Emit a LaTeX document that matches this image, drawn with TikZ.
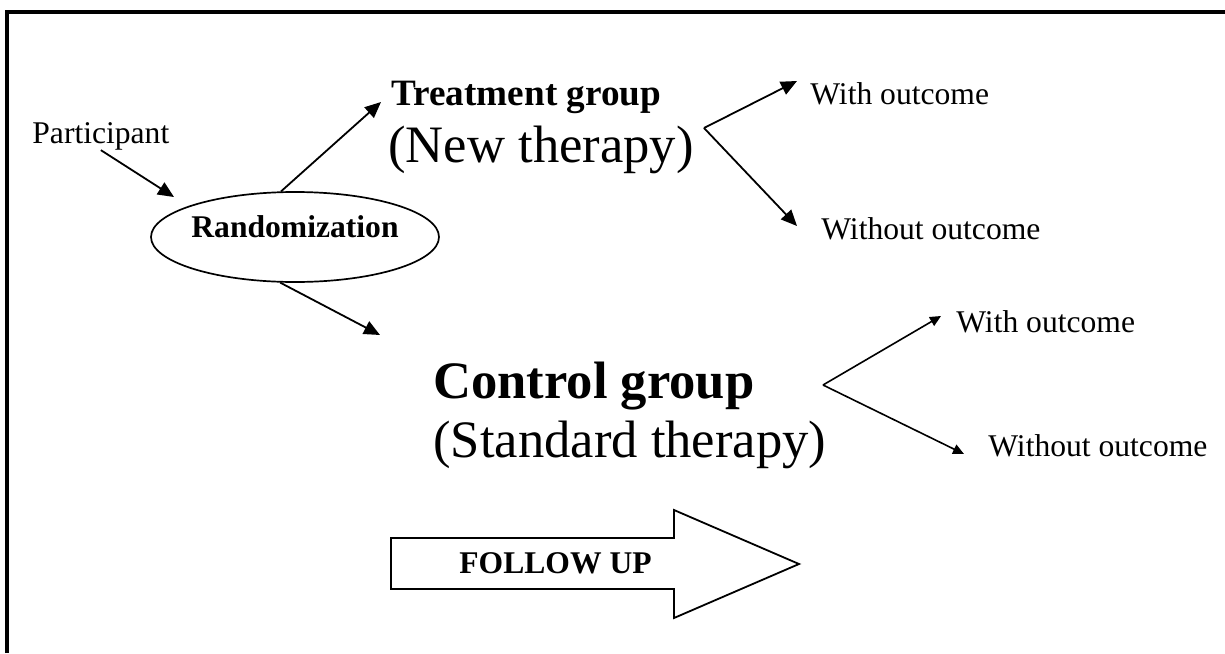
\documentclass[tikz,border=0pt]{standalone}
\usepackage{fontspec}
\setmainfont{Liberation Serif}
\usetikzlibrary{positioning,arrows.meta,shapes.geometric}

\begin{document}
\begin{tikzpicture}[x=0.5pt,y=-0.5pt, txt/.style={anchor=base west,inner sep=0pt,font=\fontsize{15.8}{19}\selectfont},
    grp/.style={anchor=base west,inner sep=0pt,font=\fontsize{26.3}{31}\selectfont},
    randbox/.style={ellipse,draw,line width=0.85pt,minimum width=144pt,minimum height=45pt,inner xsep=-1pt,inner ysep=0pt,text depth=10pt,font=\bfseries\fontsize{15.8}{19}\selectfont},
    arr/.style={-{Triangle[length=8pt,width=7pt]},line width=0.9pt},
    sarr/.style={-{Triangle[length=5.5pt,width=5pt]},line width=0.8pt}]
            \useasboundingbox (0,0) rectangle (1225,653);
            \draw[line width=2pt] (7,653) -- (7,12) -- (1225,12);

            \node[txt] (part) at (32,143) {Participant};
            \node[randbox] (rnd) at (295,237) {Randomization};

            \node[txt,font=\bfseries\fontsize{18.6}{22}\selectfont] (treat) at (391,105) {Treatment group};
            \node[grp] (newth) at (388,162) {(New therapy)};
            \node[grp,font=\bfseries\fontsize{26.3}{31}\selectfont] (ctrl) at (433,398) {Control group};
            \node[grp] (stdth) at (433,457) {(Standard therapy)};

            \node[txt] (with1) at (810,104) {With outcome};
            \node[txt] (wout1) at (821,239) {Without outcome};
            \node[txt] (with2) at (956,332) {With outcome};
            \node[txt] (wout2) at (988,456) {Without outcome};

            \coordinate (parttip) at (174,197);
            \coordinate (treattip) at (381,102);
            \coordinate (ctrltip) at (380,335);
            \coordinate (fork1) at (704,128);
            \coordinate (with1tip) at (797,81);
            \coordinate (wout1tip) at (797,226);
            \coordinate (fork2) at (823,385);
            \coordinate (with2tip) at (941,316);
            \coordinate (wout2tip) at (964,454);

            \draw[arr] (part.south) -- (parttip);
            \draw[arr] (rnd.107) -- (treattip);
            \draw[arr] (rnd.252) -- (ctrltip);
            \draw[arr] (fork1) -- (with1tip);
            \draw[arr] (fork1) -- (wout1tip);
            \draw[sarr] (fork2) -- (with2tip);
            \draw[sarr] (fork2) -- (wout2tip);

            \draw[line width=0.9pt] (391,538) -- (674,538) -- (674,510) -- (799,564) -- (674,618) -- (674,589) -- (391,589) -- cycle;
            \node[txt,font=\bfseries\fontsize{15.8}{19}\selectfont] (follow) at (459,573) {FOLLOW UP};
          \end{tikzpicture}
\end{document}
